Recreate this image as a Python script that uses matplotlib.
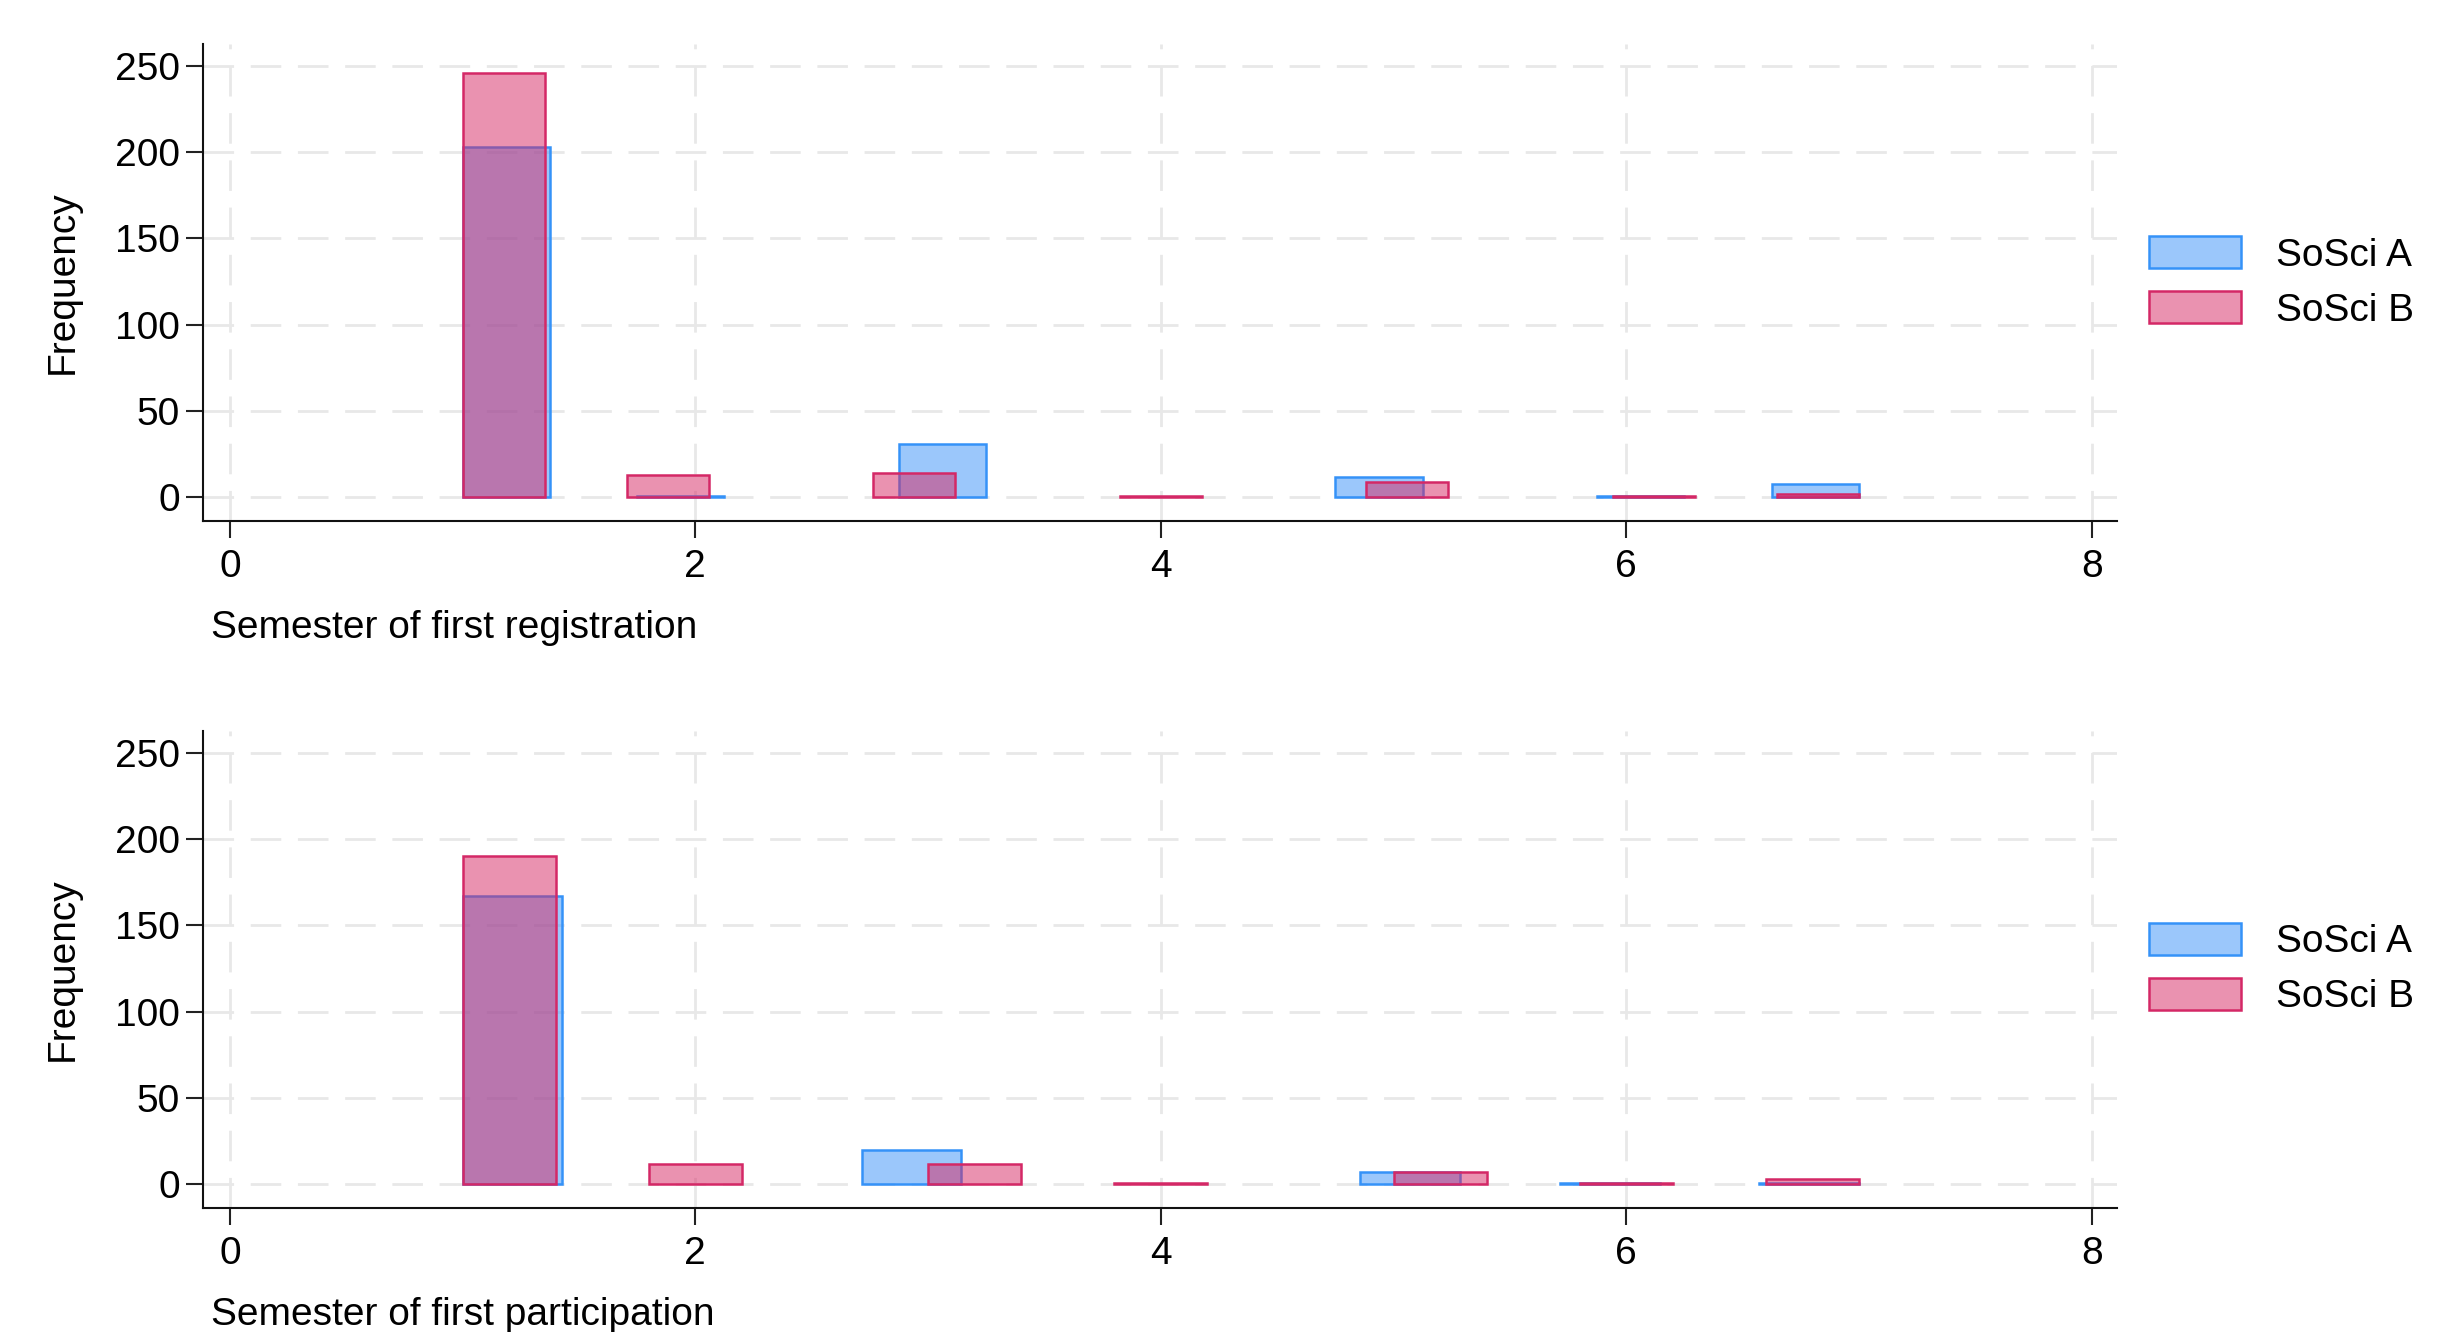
import numpy as np
import matplotlib
matplotlib.use('Agg')
import matplotlib.pyplot as plt
from matplotlib.patches import Patch

plt.rcParams['font.family'] = ['Liberation Sans', 'DejaVu Sans']

# ── Histogram counts (Stata bins between semester 1 and 7) ──────────────────
# first registration
reg_a_counts = [203, 0, 1, 0, 0, 31, 0, 0, 0, 0, 12, 0, 0, 1, 0, 8]            # 16 bins
reg_b_counts = [246, 0, 13, 0, 0, 14, 0, 0, 1, 0, 0, 9, 0, 0, 1, 0, 2]         # 17 bins
# first participation
par_a_counts = [167, 0, 0, 0, 20, 0, 0, 0, 0, 7, 0, 1, 0, 1]                   # 14 bins
par_b_counts = [190, 0, 12, 0, 0, 12, 0, 1, 0, 0, 7, 0, 1, 0, 3]               # 15 bins

x_min, x_max = 1, 7
x_ticks = [0, 2, 4, 6, 8]
y_ticks = [0, 50, 100, 150, 200, 250]
group_labels = ['SoSci A', 'SoSci B']
x_titles = ['Semester of first registration', 'Semester of first participation']

# ── Styles ──────────────────────────────────────────────────────────────────
FILL_A = (0.224, 0.569, 0.976, 0.5)
EDGE_A = '#3592F8'
FILL_B = (0.843, 0.153, 0.388, 0.5)
EDGE_B = '#D42866'
FS = 28
GRID = '#E8E8E8'


def draw_hist(ax, counts, fill, edge):
    counts = np.asarray(counts, dtype=float)
    edges = np.linspace(x_min, x_max, len(counts) + 1)
    keep = counts > 0
    ax.bar(edges[:-1][keep], counts[keep], width=np.diff(edges)[keep],
           align='edge', facecolor=fill, edgecolor=edge, linewidth=1.8,
           zorder=3)


def style_ax(ax, xtitle):
    ax.set_xlim(-0.114, 8.107)
    ax.set_ylim(-13.6, 262.7)
    ax.set_xticks(x_ticks)
    ax.set_yticks(y_ticks)
    for side in ('top', 'right'):
        ax.spines[side].set_visible(False)
    for side in ('left', 'bottom'):
        ax.spines[side].set_linewidth(1.5)
        ax.spines[side].set_color('#111111')
    ax.tick_params(axis='both', labelsize=FS, length=12, width=1.5,
                   color='#222222', direction='out')
    ax.tick_params(axis='x', pad=8)
    ax.tick_params(axis='y', pad=5)
    ax.grid(True, color=GRID, linewidth=2.0, linestyle=(0, (11, 6)), zorder=0)
    ax.set_axisbelow(True)

    ax.set_ylabel('Frequency', fontsize=FS)
    ax.yaxis.set_label_coords(-0.0736, 0.5)
    ax.yaxis.label.set_va('center')

    ax.set_xlabel(xtitle, fontsize=FS, loc='left')
    ax.xaxis.set_label_coords(0.004, -0.225)
    ax.xaxis.label.set_va('center')

    handles = [Patch(facecolor=FILL_A, edgecolor=EDGE_A, linewidth=1.8),
               Patch(facecolor=FILL_B, edgecolor=EDGE_B, linewidth=1.8)]
    ax.legend(handles, group_labels, loc='center left',
              bbox_to_anchor=(1.017, 0.5), frameon=False, fontsize=FS,
              handlelength=2.35, handleheight=0.9, handletextpad=0.9,
              labelspacing=0.45, borderpad=0, borderaxespad=0)


fig = plt.figure(figsize=(24.53, 13.32), dpi=100)
ax_reg = fig.add_axes([0.0829, 0.6089, 0.7800, 0.3582])
ax_par = fig.add_axes([0.0829, 0.0933, 0.7800, 0.3582])

draw_hist(ax_reg, reg_a_counts, FILL_A, EDGE_A)
draw_hist(ax_reg, reg_b_counts, FILL_B, EDGE_B)
style_ax(ax_reg, x_titles[0])

draw_hist(ax_par, par_a_counts, FILL_A, EDGE_A)
draw_hist(ax_par, par_b_counts, FILL_B, EDGE_B)
style_ax(ax_par, x_titles[1])

fig.savefig('out.png', dpi=100, facecolor='white')
